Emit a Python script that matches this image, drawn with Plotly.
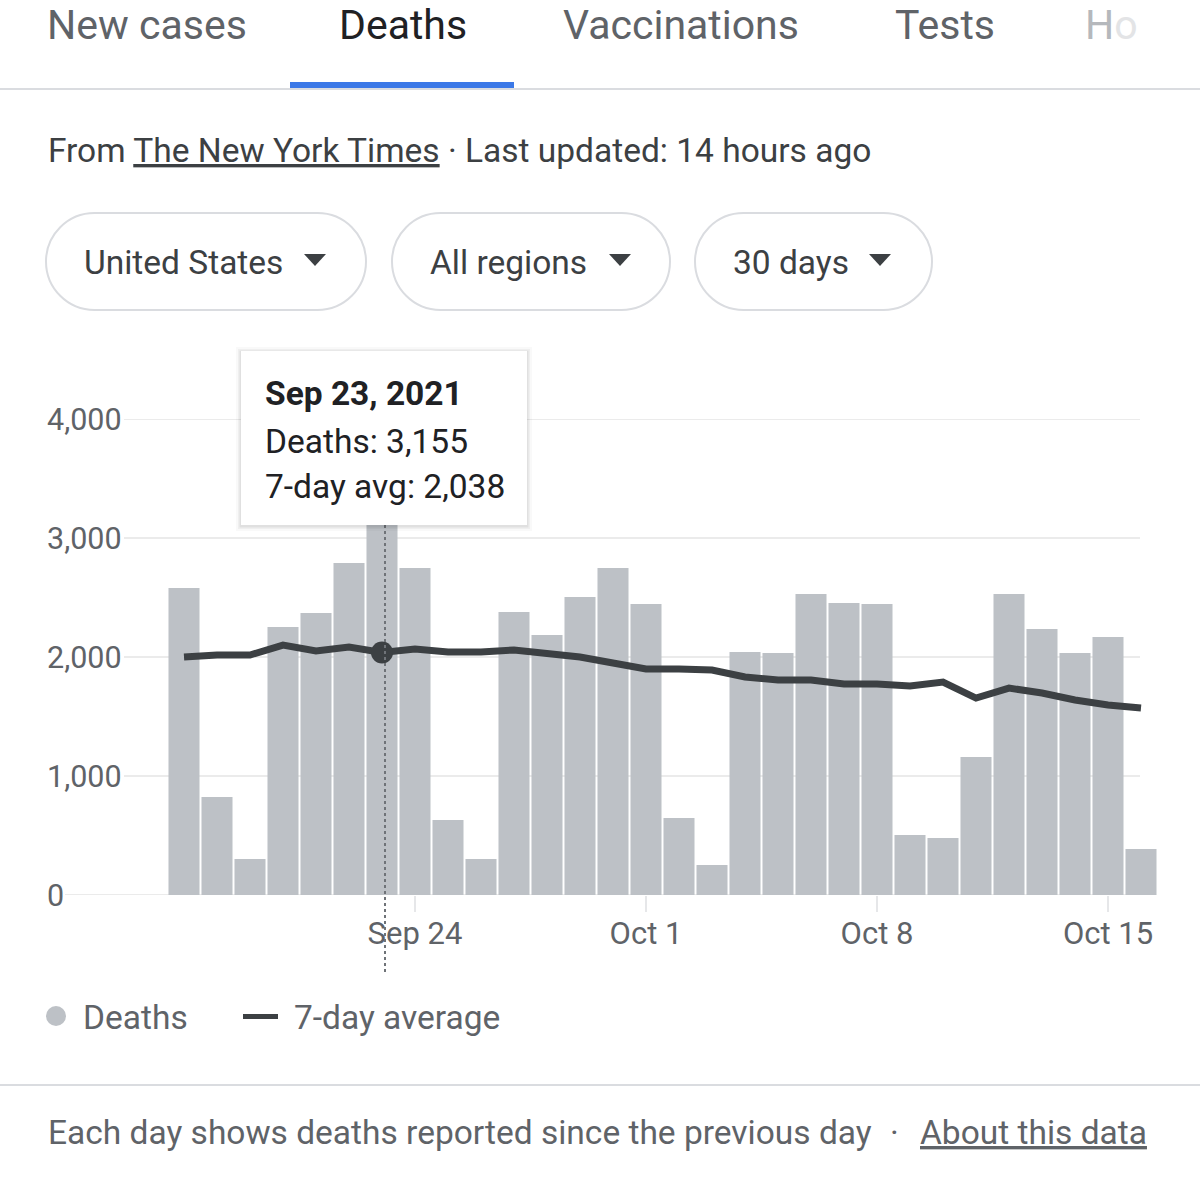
import plotly.graph_objects as go
import pandas as pd

# ---------------- data ----------------
dates = pd.date_range("2021-09-17", "2021-10-16", freq="D")
deaths = [2580, 824, 303, 2252, 2370, 2790, 3155, 2748, 630, 303,
          2378, 2185, 2504, 2748, 2445, 647, 252, 2042, 2034, 2529,
          2454, 2445, 504, 479, 1160, 2529, 2235, 2034, 2168, 387]
avg7 = [2000, 2017, 2017, 2100, 2050, 2084, 2038, 2067, 2042, 2042,
        2059, 2034, 2000, 1950, 1899, 1899, 1891, 1832, 1807, 1807,
        1773, 1773, 1756, 1790, 1655, 1739, 1697, 1639, 1597, 1571]
x_tick_vals = ["2021-09-24", "2021-10-01", "2021-10-08", "2021-10-15"]
x_tick_text = ["Sep 24", "Oct 1", "Oct 8", "Oct 15"]
y_tick_vals = [0, 1000, 2000, 3000, 4000]
y_tick_text = ["0", "1,000", "2,000", "3,000", "4,000"]
tabs = ["New cases", "Deaths", "Vaccinations", "Tests"]
pills = ["United States", "All regions", "30 days"]
hover_date = "2021-09-23"
hover_label = "Sep 23, 2021"
hover_deaths = 3155
hover_avg = 2038

# ---------------- geometry (pixels) ----------------
W, H = 1200, 1200
L, R, T, B = 45, 1157, 419, 895
PX_DAY = 33.0
FIRST_CENTER = 184.0

def px(p):
    return (p - L) / (R - L)

def py(p):
    return (B - p) / (B - T)

x0 = dates[0] - pd.Timedelta(days=(FIRST_CENTER - L) / PX_DAY)
x1 = dates[0] + pd.Timedelta(days=(R - FIRST_CENTER) / PX_DAY)

FONT = "Roboto"
GREY_TXT = "#5f6368"
DARK_TXT = "#202124"
MID_TXT = "#3c4043"
BAR = "#bdc1c6"
LINE = "#3c4043"
DIV = "#dadce0"
TXT = 33.5

fig = go.Figure()
fig.add_trace(go.Bar(x=dates, y=deaths, marker=dict(color=BAR, line=dict(width=0)),
                     name="Deaths", hoverinfo="skip"))
fig.add_trace(go.Scatter(x=dates, y=avg7, mode="lines", line=dict(color=LINE, width=7),
                         name="7-day average", hoverinfo="skip"))
hi = list(dates.strftime("%Y-%m-%d")).index(hover_date)
fig.add_trace(go.Scatter(x=[dates[hi]], y=[avg7[hi]], mode="markers",
                         marker=dict(color=LINE, size=22), hoverinfo="skip", showlegend=False))

shapes = []
annots = []

# y tick labels (left aligned, as in the reference) and gridlines starting after them
grid_start = {0: 65, 1000: 124, 2000: 124, 3000: 124, 4000: 124}
for v, t in zip(y_tick_vals, y_tick_text):
    shapes.append(dict(type="line", xref="paper", yref="y", x0=px(grid_start[v]), x1=px(1140),
                       y0=v, y1=v, line=dict(color="#ebebeb", width=2), layer="below"))
    annots.append(dict(xref="paper", yref="y", x=px(45), y=v, xanchor="left", yanchor="middle",
                       text=t, showarrow=False, font=dict(family=FONT, size=30.5, color=GREY_TXT)))

# hover dotted line
shapes.append(dict(type="line", xref="paper", yref="paper", x0=px(385), x1=px(385),
                   y0=py(972), y1=py(525), line=dict(color="#6f7378", width=2, dash="dot"),
                   layer="above"))

# tooltip box with soft shadow
bx0, by0, bx1, by1 = 241, 351, 527, 525
for off, a in [(5, 0.025), (3, 0.04), (1.5, 0.06)]:
    shapes.append(dict(type="rect", xref="paper", yref="paper",
                       x0=px(bx0 - off), x1=px(bx1 + off), y0=py(by1 + off + 1), y1=py(by0 - off + 1),
                       fillcolor=f"rgba(0,0,0,{a})", line=dict(width=0), layer="above"))
shapes.append(dict(type="rect", xref="paper", yref="paper", x0=px(bx0), x1=px(bx1),
                   y0=py(by1), y1=py(by0), fillcolor="white", line=dict(width=0), layer="above"))
annots.append(dict(xref="paper", yref="paper", x=px(263), y=py(393), xanchor="left", yanchor="middle",
                   text=f"<b>{hover_label}</b>", showarrow=False,
                   font=dict(family=FONT, size=TXT, color=DARK_TXT)))
annots.append(dict(xref="paper", yref="paper", x=px(263), y=py(441), xanchor="left", yanchor="middle",
                   text=f"Deaths: {hover_deaths:,}", showarrow=False,
                   font=dict(family=FONT, size=TXT, color=DARK_TXT)))
annots.append(dict(xref="paper", yref="paper", x=px(263), y=py(486), xanchor="left", yanchor="middle",
                   text=f"7-day avg: {hover_avg:,}", showarrow=False,
                   font=dict(family=FONT, size=TXT, color=DARK_TXT)))

# ---------------- header tabs ----------------
tab_x = [46, 338, 562, 894]
for t, xx in zip(tabs, tab_x):
    annots.append(dict(xref="paper", yref="paper", x=px(xx), y=py(0), xanchor="left", yanchor="top",
                       text=t, showarrow=False, borderpad=0,
                       font=dict(family=FONT, size=41, color=DARK_TXT if t == "Deaths" else GREY_TXT)))
annots.append(dict(xref="paper", yref="paper", x=px(1084), y=py(0), xanchor="left", yanchor="top",
                   text='<span style="color:#b5b8bc">H</span><span style="color:#e3e4e6">o</span>',
                   showarrow=False, borderpad=0, font=dict(family=FONT, size=41, color="#b5b8bc")))
shapes.append(dict(type="rect", xref="paper", yref="paper", x0=px(0), x1=px(W), y0=py(90), y1=py(88),
                   fillcolor=DIV, line=dict(width=0)))
shapes.append(dict(type="rect", xref="paper", yref="paper", x0=px(290), x1=px(514), y0=py(88), y1=py(82),
                   fillcolor="#3b78e7", line=dict(width=0)))

# source line
annots.append(dict(xref="paper", yref="paper", x=px(46), y=py(150), xanchor="left", yanchor="middle",
                   text="From <u>The New York Times</u> · Last updated: 14 hours ago", showarrow=False,
                   font=dict(family=FONT, size=TXT, color=MID_TXT)))

# pills
pill_box = [(46, 366), (392, 670), (695, 932)]
pill_text_x = [82, 428, 731]
tri_x = [304, 609, 869]
pt, pb = 213, 310
k = 0.5523
for (a, b), tx, trx, label in zip(pill_box, pill_text_x, tri_x, pills):
    r = (pb - pt) / 2
    yc = (pt + pb) / 2
    pts = [
        ("M", [(a + r, pt)]),
        ("L", [(b - r, pt)]),
        ("C", [(b - r + k * r, pt), (b, yc - k * r), (b, yc)]),
        ("C", [(b, yc + k * r), (b - r + k * r, pb), (b - r, pb)]),
        ("L", [(a + r, pb)]),
        ("C", [(a + r - k * r, pb), (a, yc + k * r), (a, yc)]),
        ("C", [(a, yc - k * r), (a + r - k * r, pt), (a + r, pt)]),
    ]
    path = " ".join(c + " " + " ".join(f"{px(xx):.5f},{py(yy):.5f}" for xx, yy in p) for c, p in pts) + " Z"
    shapes.append(dict(type="path", xref="paper", yref="paper", path=path,
                       line=dict(color=DIV, width=2), fillcolor="white"))
    annots.append(dict(xref="paper", yref="paper", x=px(tx), y=py(262), xanchor="left", yanchor="middle",
                       text=label, showarrow=False, font=dict(family=FONT, size=TXT, color=MID_TXT)))
    tpath = f"M {px(trx):.5f},{py(254):.5f} L {px(trx + 22):.5f},{py(254):.5f} L {px(trx + 11):.5f},{py(266):.5f} Z"
    shapes.append(dict(type="path", xref="paper", yref="paper", path=tpath,
                       line=dict(width=0), fillcolor=MID_TXT))

# legend
shapes.append(dict(type="circle", xref="paper", yref="paper", x0=px(46), x1=px(66), y0=py(1026), y1=py(1006),
                   fillcolor=BAR, line=dict(width=0)))
annots.append(dict(xref="paper", yref="paper", x=px(81), y=py(1017), xanchor="left", yanchor="middle",
                   text="Deaths", showarrow=False, font=dict(family=FONT, size=TXT, color=GREY_TXT)))
shapes.append(dict(type="rect", xref="paper", yref="paper", x0=px(243), x1=px(278), y0=py(1019), y1=py(1014),
                   fillcolor=LINE, line=dict(width=0)))
annots.append(dict(xref="paper", yref="paper", x=px(292), y=py(1017), xanchor="left", yanchor="middle",
                   text="7-day average", showarrow=False, font=dict(family=FONT, size=TXT, color=GREY_TXT)))

# footer
shapes.append(dict(type="rect", xref="paper", yref="paper", x0=px(0), x1=px(W), y0=py(1086), y1=py(1084),
                   fillcolor=DIV, line=dict(width=0)))
annots.append(dict(xref="paper", yref="paper", x=px(46), y=py(1132), xanchor="left", yanchor="middle",
                   text="Each day shows deaths reported since the previous day", showarrow=False,
                   font=dict(family=FONT, size=TXT, color=GREY_TXT)))
annots.append(dict(xref="paper", yref="paper", x=px(894), y=py(1132), xanchor="center", yanchor="middle",
                   text="·", showarrow=False, font=dict(family=FONT, size=TXT, color=GREY_TXT)))
annots.append(dict(xref="paper", yref="paper", x=px(918), y=py(1132), xanchor="left", yanchor="middle",
                   text="<u>About this data</u>", showarrow=False,
                   font=dict(family=FONT, size=TXT, color=GREY_TXT)))

fig.update_layout(
    width=W, height=H,
    margin=dict(l=L, r=W - R, t=T, b=H - B, pad=0),
    paper_bgcolor="white", plot_bgcolor="white",
    showlegend=False, bargap=0.06,
    font=dict(family=FONT, color=GREY_TXT),
    shapes=shapes, annotations=annots,
    xaxis=dict(type="date", range=[x0, x1], tickvals=x_tick_vals, ticktext=x_tick_text,
               showgrid=False, zeroline=False, showline=False,
               ticks="outside", ticklen=16, tickwidth=2, tickcolor="#e6e7e9",
               ticklabelstandoff=-5,
               tickfont=dict(family=FONT, size=31, color=GREY_TXT)),
    yaxis=dict(range=[0, 4000], tickvals=y_tick_vals, showticklabels=False,
               showgrid=False, zeroline=False, showline=False, ticks=""),
)

fig.write_html("out.html")
